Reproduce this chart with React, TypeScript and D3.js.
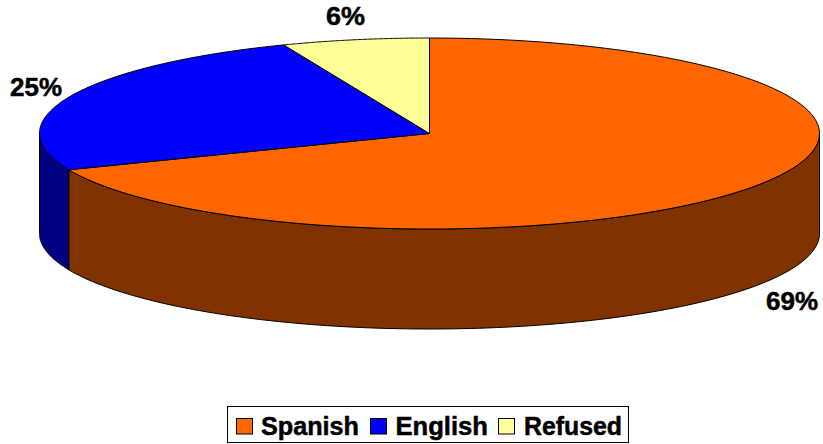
import React from "react";
import * as d3 from "d3";

const categories = ["Spanish", "English", "Refused"];
const shares = [68.8, 25.1, 6.1];
const labels = ["69%", "25%", "6%"];
const topColors = ["#FF6600", "#0000FF", "#FFFF99"];
const sideColors = ["#803300", "#000080", "#808040"];

const W = 823, H = 444;
const cx = 429.5, cy = 133.5, rx = 390, ry = 95.5, depth = 100;
const FONT = "'Liberation Sans', Arial, sans-serif";

const labelPos = [
  { x: 766, y: 310, w: 52 },
  { x: 10, y: 96, w: 52 },
  { x: 326, y: 25, w: 39 },
];
const legendX = [
  { s: 236, t: 261, w: 98 },
  { s: 370, t: 395.5, w: 92.5 },
  { s: 498, t: 524, w: 98 },
];

const px = (a: number) => cx + rx * Math.sin(a);
const py = (a: number) => cy - ry * Math.cos(a);

export default function App() {
  const arcs = d3.pie<number>().sort(null).value((d) => d)(shares);
  const line = d3.line<[number, number]>();
  const sample = (a0: number, a1: number) =>
    d3.range(0, 121).map((i) => a0 + ((a1 - a0) * i) / 120);

  const topPath = (a0: number, a1: number) => {
    const pts = sample(a0, a1).map((a) => [px(a), py(a)] as [number, number]);
    return line([[cx, cy], ...pts]) + "Z";
  };
  const sidePath = (a0: number, a1: number) => {
    const s = Math.max(a0, Math.PI / 2);
    const e = Math.min(a1, (3 * Math.PI) / 2);
    if (s >= e) return null;
    const up = sample(s, e).map((a) => [px(a), py(a)] as [number, number]);
    const down = sample(e, s).map((a) => [px(a), py(a) + depth] as [number, number]);
    return line([...up, ...down]) + "Z";
  };

  return (
    <svg
      width={W}
      height={H}
      viewBox={`0 0 ${W} ${H}`}
      style={{ position: "absolute", left: 0, top: 0, display: "block", background: "#fff" }}
    >
      {arcs.map((a, i) => {
        const d = sidePath(a.startAngle, a.endAngle);
        return d ? (
          <path key={"s" + i} d={d} fill={sideColors[i]} stroke="#000" strokeWidth={1} strokeLinejoin="round" />
        ) : null;
      })}
      {arcs.map((a, i) => (
        <path
          key={"t" + i}
          d={topPath(a.startAngle, a.endAngle)}
          fill={topColors[i]}
          stroke="#000"
          strokeWidth={1}
          strokeLinejoin="round"
        />
      ))}
      {labels.map((t, i) => (
        <text
          key={t}
          x={labelPos[i].x}
          y={labelPos[i].y}
          fontFamily={FONT}
          fontWeight="bold"
          fontSize={25}
          fill="#000"
          stroke="#000"
          strokeWidth={0.5}
          textLength={labelPos[i].w}
          lengthAdjust="spacingAndGlyphs"
        >
          {t}
        </text>
      ))}
      <rect x={227.5} y={406.5} width={401} height={36} fill="#fff" stroke="#000" strokeWidth={1} />
      {categories.map((c, i) => (
        <g key={c}>
          <rect x={legendX[i].s + 0.5} y={418.5} width={16} height={15.5} fill={topColors[i]} stroke="#000" strokeWidth={1} />
          <text
            x={legendX[i].t}
            y={435}
            fontFamily={FONT}
            fontWeight="bold"
            fontSize={25}
            fill="#000"
            stroke="#000"
            strokeWidth={0.5}
            textLength={legendX[i].w}
            lengthAdjust="spacingAndGlyphs"
          >
            {c}
          </text>
        </g>
      ))}
    </svg>
  );
}
